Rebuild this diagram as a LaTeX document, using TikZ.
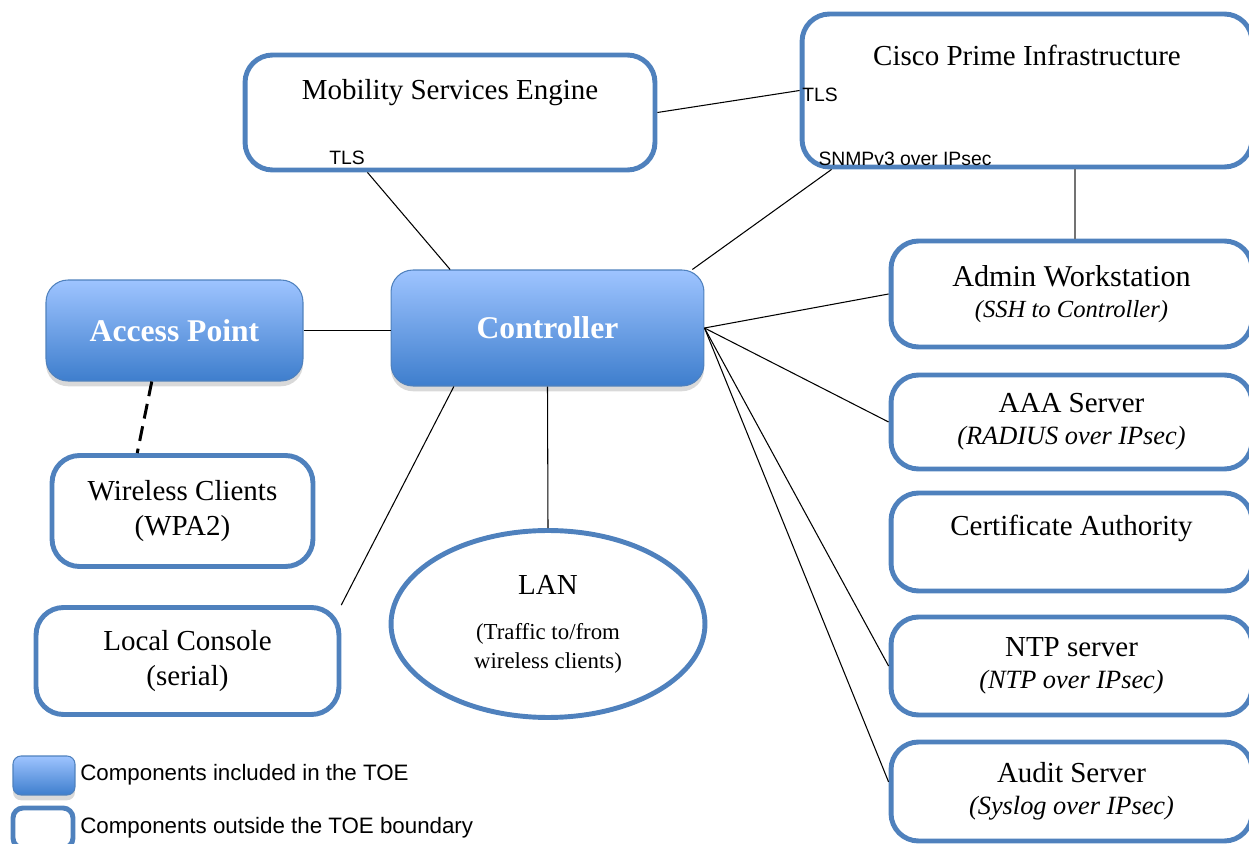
\documentclass[tikz,border=0pt]{standalone}
\usepackage{fontspec}
\setmainfont{Liberation Serif}
\newfontfamily\arialfont{Liberation Sans}
\usetikzlibrary{shapes.geometric,shadows}
\definecolor{toeTop}{RGB}{158,196,255}
\definecolor{toeBot}{RGB}{62,126,205}
\definecolor{toeEdge}{RGB}{79,129,189}
\newcommand{\subline}[2][15]{{\fontsize{#1}{18}\selectfont\itshape #2}}
\newcommand{\lanline}[1]{{\fontsize{13}{16}\selectfont #1}}

\begin{document}
\begin{tikzpicture}[x=0.02cm,y=-0.02cm,
    toe/.style={rectangle,rounded corners=0.44cm,draw=toeEdge,line width=0.6pt,
      top color=toeTop,bottom color=toeBot,text=white,
      font=\fontsize{18}{22}\selectfont\bfseries,
      drop shadow={shadow xshift=0pt,shadow yshift=-3pt,opacity=0.3}},
    ext/.style={rectangle,rounded corners=0.55cm,draw=toeEdge,line width=2.8pt,
      fill=white,align=center,font=\fontsize{16.5}{20}\selectfont},
    srv/.style={ext,minimum width=7.22cm,font=\fontsize{16.5}{18}\selectfont},
    proto/.style={font=\arialfont\fontsize{11}{13}\selectfont,inner sep=0pt},
    key/.style={anchor=west,inner sep=0pt,font=\arialfont\fontsize{12.7}{15}\selectfont},
    link/.style={line width=0.6pt},
    wifi/.style={line width=1.7pt,dash pattern=on 8.5pt off 4.5pt}]
    \useasboundingbox (0,0) rectangle (1249,844);
    \clip (0,0) rectangle (1249,844);
    \node (mse) at (450,112.5) [ext,minimum width=8.2cm,text height=0.9cm,text depth=1.4cm,inner ysep=0pt] {Mobility Services Engine};
    \node (cpi) at (1027,90.5) [ext,minimum width=9cm,text height=1.04cm,text depth=2.02cm,inner ysep=0pt] {Cisco Prime Infrastructure};
    \node (ap) at (174.5,330.5) [toe,minimum width=5.14cm,minimum height=2.02cm] {Access Point};
    \node (ctrl) at (547.5,328) [toe,minimum width=6.26cm,minimum height=2.32cm] {Controller};
    \node (wlc) at (182.5,511) [ext,minimum width=5.22cm,minimum height=2.22cm] {Wireless Clients\\(WPA2)};
    \node (con) at (187.5,661) [ext,minimum width=6.06cm,minimum height=2.14cm] {Local Console\\(serial)};
    \node (lan) at (548,624) [ext,ellipse,minimum width=6.28cm,minimum height=3.74cm,font=\fontsize{16.5}{16}\selectfont] {LAN\\[10pt]\lanline{(Traffic to/from}\\\lanline{wireless clients)}};
    \node (adm) at (1071.5,294) [srv,minimum height=2.12cm] {\fontsize{17.2}{18}\selectfont Admin Workstation\\\subline[14]{(SSH to Controller)}};
    \node (aaa) at (1071.5,422) [srv,minimum height=1.88cm] {AAA Server\\\subline{(RADIUS over IPsec)}};
    \node (ca) at (1071.5,542) [srv,text height=0.86cm,text depth=1.1cm,inner ysep=0pt] {Certificate Authority};
    \node (ntp) at (1071.5,666) [srv,minimum height=1.96cm] {NTP server\\\subline{(NTP over IPsec)}};
    \node (aud) at (1071.5,791.5) [srv,minimum height=1.98cm] {Audit Server\\\subline{(Syslog over IPsec)}};
    \node (mseTls) at (347,158) [proto] {TLS};
    \node (cpiTls) at (820,95) [proto] {TLS};
    \node (cpiSnmp) at (905,159) [proto] {SNMPv3 over IPsec};
    % legend
    \node (keyIn) at (44,775.5) [toe,minimum width=1.24cm,minimum height=0.78cm,rounded corners=0.16cm] {};
    \node (keyOut) at (43,828) [ext,minimum width=1.2cm,minimum height=0.8cm,rounded corners=0.2cm] {};
    \node (keyInTxt) at (80,775) [key] {Components included in the TOE};
    \node (keyOutTxt) at (80,828) [key] {Components outside the TOE boundary};
    \draw[link] (mse.216.6) -- (ctrl.149.2);
    \draw[link] (mse.east) -- (cpi.west);
    \draw[link] (ctrl.22) -- (cpi.202.6);
    \draw[link,black!55] ([xshift=0.07cm]cpi.south -| adm.north) -- ([xshift=0.07cm]adm.north);
    \draw[link] (ap.east) -- (ap.east -| ctrl.west);
    \draw[wifi] (ap.246.4) -- (wlc.128.4);
    \draw[link] (ctrl.212.5) -- (con.20.8);
    \draw[link] (ctrl.south) -- (lan.north);
    \draw[link] (ctrl.east) -- (adm.west);
    \draw[link] (ctrl.east) -- (aaa.west);
    \draw[link] (ctrl.east) -- (ntp.west);
    \draw[link] (ctrl.east) -- (aud.177);
\end{tikzpicture}
\end{document}
